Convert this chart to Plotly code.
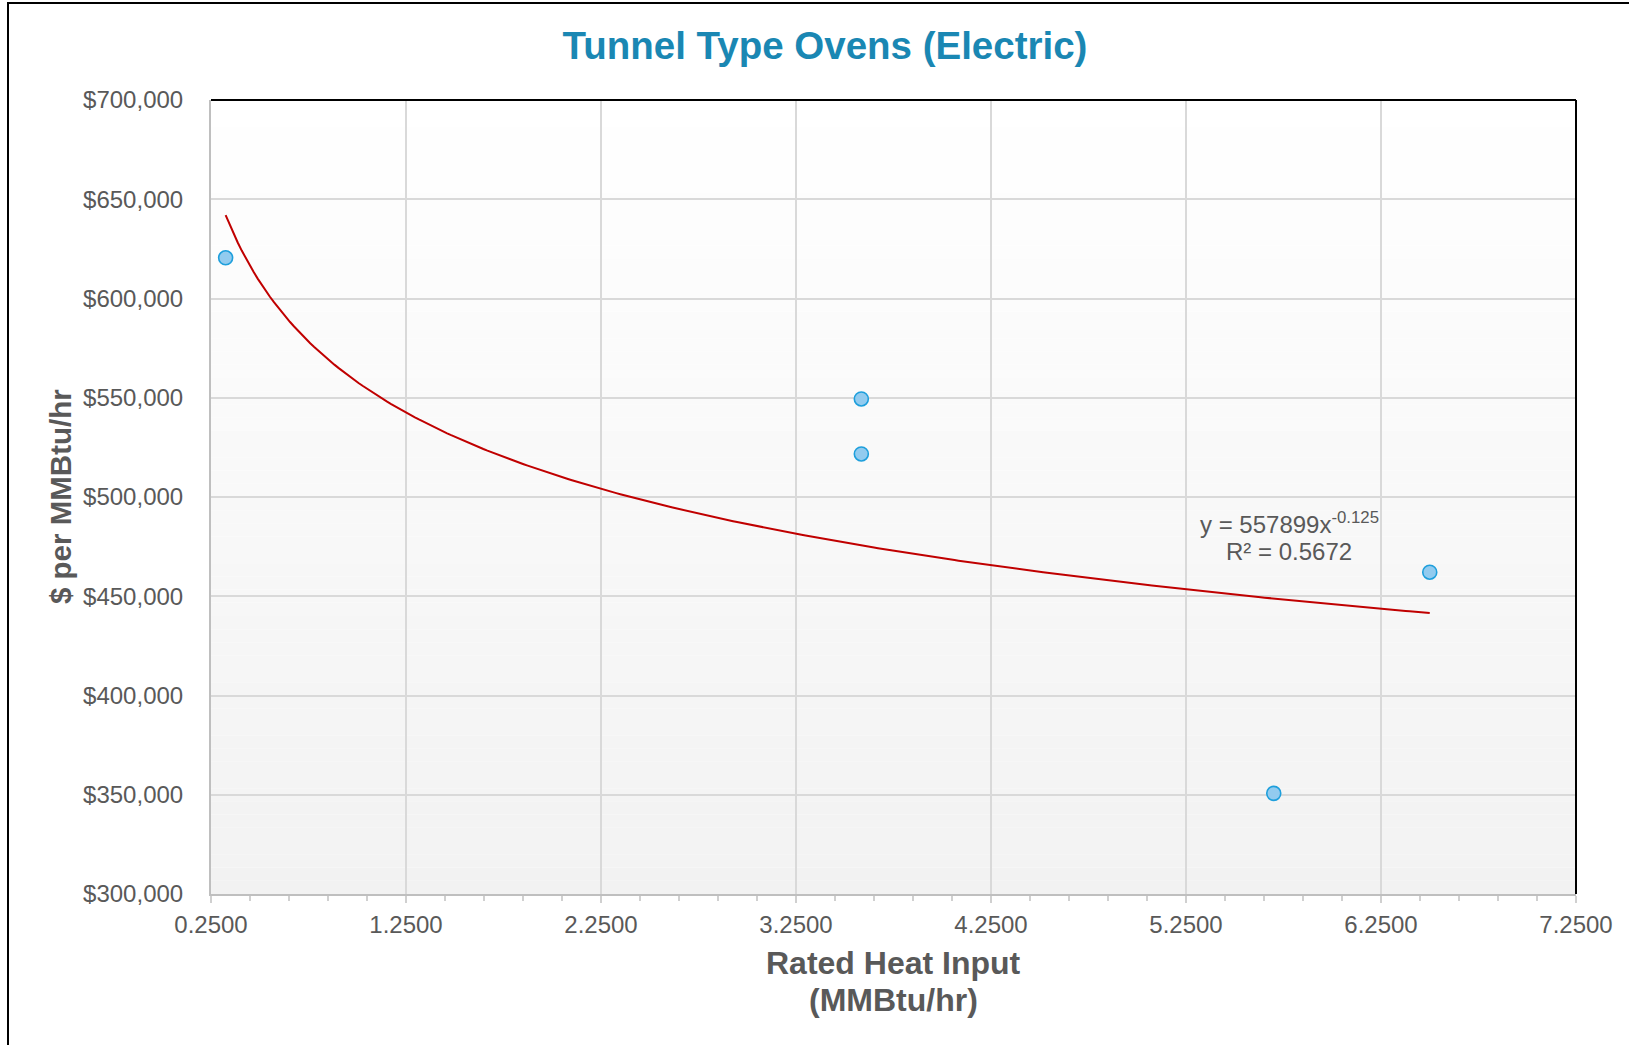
import plotly.graph_objects as go
import numpy as np

# ---- data ----
heat_input = [0.325, 3.585, 3.585, 5.70, 6.50]          # MMBtu/hr
cost_per_mmbtu = [620500, 549400, 521700, 350700, 462100]  # $ per MMBtu/hr

# power trendline shown on the chart: y = A * x^B
TREND_A = 557899
TREND_B = -0.125
R_SQUARED = 0.5672

x_ticks_start = 0.25
x_range = [0.25, 7.25]
y_range = [300000, 700000]

FONT = "Liberation Sans, Arial, sans-serif"
GREY = "#595959"

W, H = 1629, 1045
L, R, T, B = 211, 53, 100, 150.5
pw, ph = W - L - R, H - T - B


def px_x(px):
    return (px - L) / pw


def px_y(py):
    return (H - B - py) / ph


fig = go.Figure()

trend_x = np.linspace(min(heat_input), max(heat_input), 300)
trend_y = TREND_A * trend_x ** TREND_B
fig.add_trace(go.Scatter(x=trend_x, y=trend_y, mode="lines",
                         line=dict(color="#c00000", width=2),
                         hoverinfo="skip", showlegend=False))

fig.add_trace(go.Scatter(x=heat_input, y=cost_per_mmbtu, mode="markers",
                         marker=dict(size=14, color="#92cbef",
                                     line=dict(color="#1e9fdc", width=1.6)),
                         showlegend=False))

shapes = []
# vertical gradient background of plot area (white -> light grey)
N = 60
for i in range(N):
    t = (i + 0.5) / N  # 0 at bottom, 1 at top
    v = int(round(242 + (255 - 242) * t))
    shapes.append(dict(type="rect", xref="x domain", yref="y domain",
                       x0=0, x1=1, y0=i / N, y1=(i + 1) / N,
                       fillcolor=f"rgb({v},{v},{v})", line=dict(width=0),
                       layer="below"))
# black plot-area border on top and right
shapes.append(dict(type="line", xref="x domain", yref="y domain",
                   x0=0, x1=1, y0=1, y1=1, line=dict(color="black", width=2),
                   layer="above"))
shapes.append(dict(type="line", xref="x domain", yref="y domain",
                   x0=1, x1=1, y0=0, y1=1, line=dict(color="black", width=2),
                   layer="above"))
# outer chart frame (left and top visible)
shapes.append(dict(type="rect", xref="paper", yref="paper",
                   x0=px_x(8), x1=3, y0=-3, y1=px_y(3),
                   line=dict(color="black", width=2), fillcolor="rgba(0,0,0,0)",
                   layer="above"))

annotations = [
    dict(text="y = 557899x<sup>-0.125</sup>", xref="paper", yref="paper",
         x=px_x(1289), y=px_y(523), xanchor="center", yanchor="middle",
         showarrow=False, font=dict(family=FONT, size=24, color=GREY)),
    dict(text=f"R² = {R_SQUARED}", xref="paper", yref="paper",
         x=px_x(1289), y=px_y(552), xanchor="center", yanchor="middle",
         showarrow=False, font=dict(family=FONT, size=24, color=GREY)),
    # x axis title (two lines)
    dict(text="<b>Rated Heat Input</b>", xref="paper", yref="paper",
         x=0.5, y=px_y(964), xanchor="center", yanchor="middle",
         showarrow=False, font=dict(family=FONT, size=32, color=GREY)),
    dict(text="<b>(MMBtu/hr)</b>", xref="paper", yref="paper",
         x=0.5, y=px_y(1000.5), xanchor="center", yanchor="middle",
         showarrow=False, font=dict(family=FONT, size=32, color=GREY)),
    # y axis title
    dict(text="<b>$ per MMBtu/hr</b>", xref="paper", yref="paper",
         x=px_x(60), y=0.5, xanchor="center", yanchor="middle", textangle=-90,
         showarrow=False, font=dict(family=FONT, size=29.5, color=GREY)),
]

fig.update_layout(
    width=W, height=H,
    margin=dict(l=L, r=R, t=T, b=B, autoexpand=False),
    paper_bgcolor="white", plot_bgcolor="white",
    font=dict(family=FONT, color=GREY),
    title=dict(text="<b>Tunnel Type Ovens (Electric)</b>", xref="container", yref="container",
               x=825 / W, y=1 - 46 / H, xanchor="center", yanchor="middle",
               font=dict(family=FONT, size=38.5, color="#1a87b3")),
    shapes=shapes,
    annotations=annotations,
    xaxis=dict(range=x_range, tick0=x_ticks_start, dtick=1, tickformat=".4f",
               showgrid=True, gridcolor="#d9d9d9", gridwidth=2,
               showline=True, linecolor="#bfbfbf", linewidth=2,
               ticks="outside", ticklen=7, tickwidth=2, tickcolor="#d0d0d0",
               tickfont=dict(family=FONT, size=24, color=GREY),
               ticklabelstandoff=1,
               minor=dict(tick0=x_ticks_start, dtick=0.2, ticks="outside", ticklen=5,
                          tickwidth=2, tickcolor="#d0d0d0", showgrid=False),
               zeroline=False),
    yaxis=dict(range=y_range, dtick=50000, tickprefix="$", tickformat=",.0f",
               showgrid=True, gridcolor="#d9d9d9", gridwidth=2,
               showline=True, linecolor="#bfbfbf", linewidth=2,
               ticks="", tickfont=dict(family=FONT, size=24, color=GREY),
               ticklabelstandoff=21, zeroline=False),
)

fig.write_html("out.html", config={"displayModeBar": False},
               post_script="document.body.style.margin='0';document.body.style.overflow='hidden';")
